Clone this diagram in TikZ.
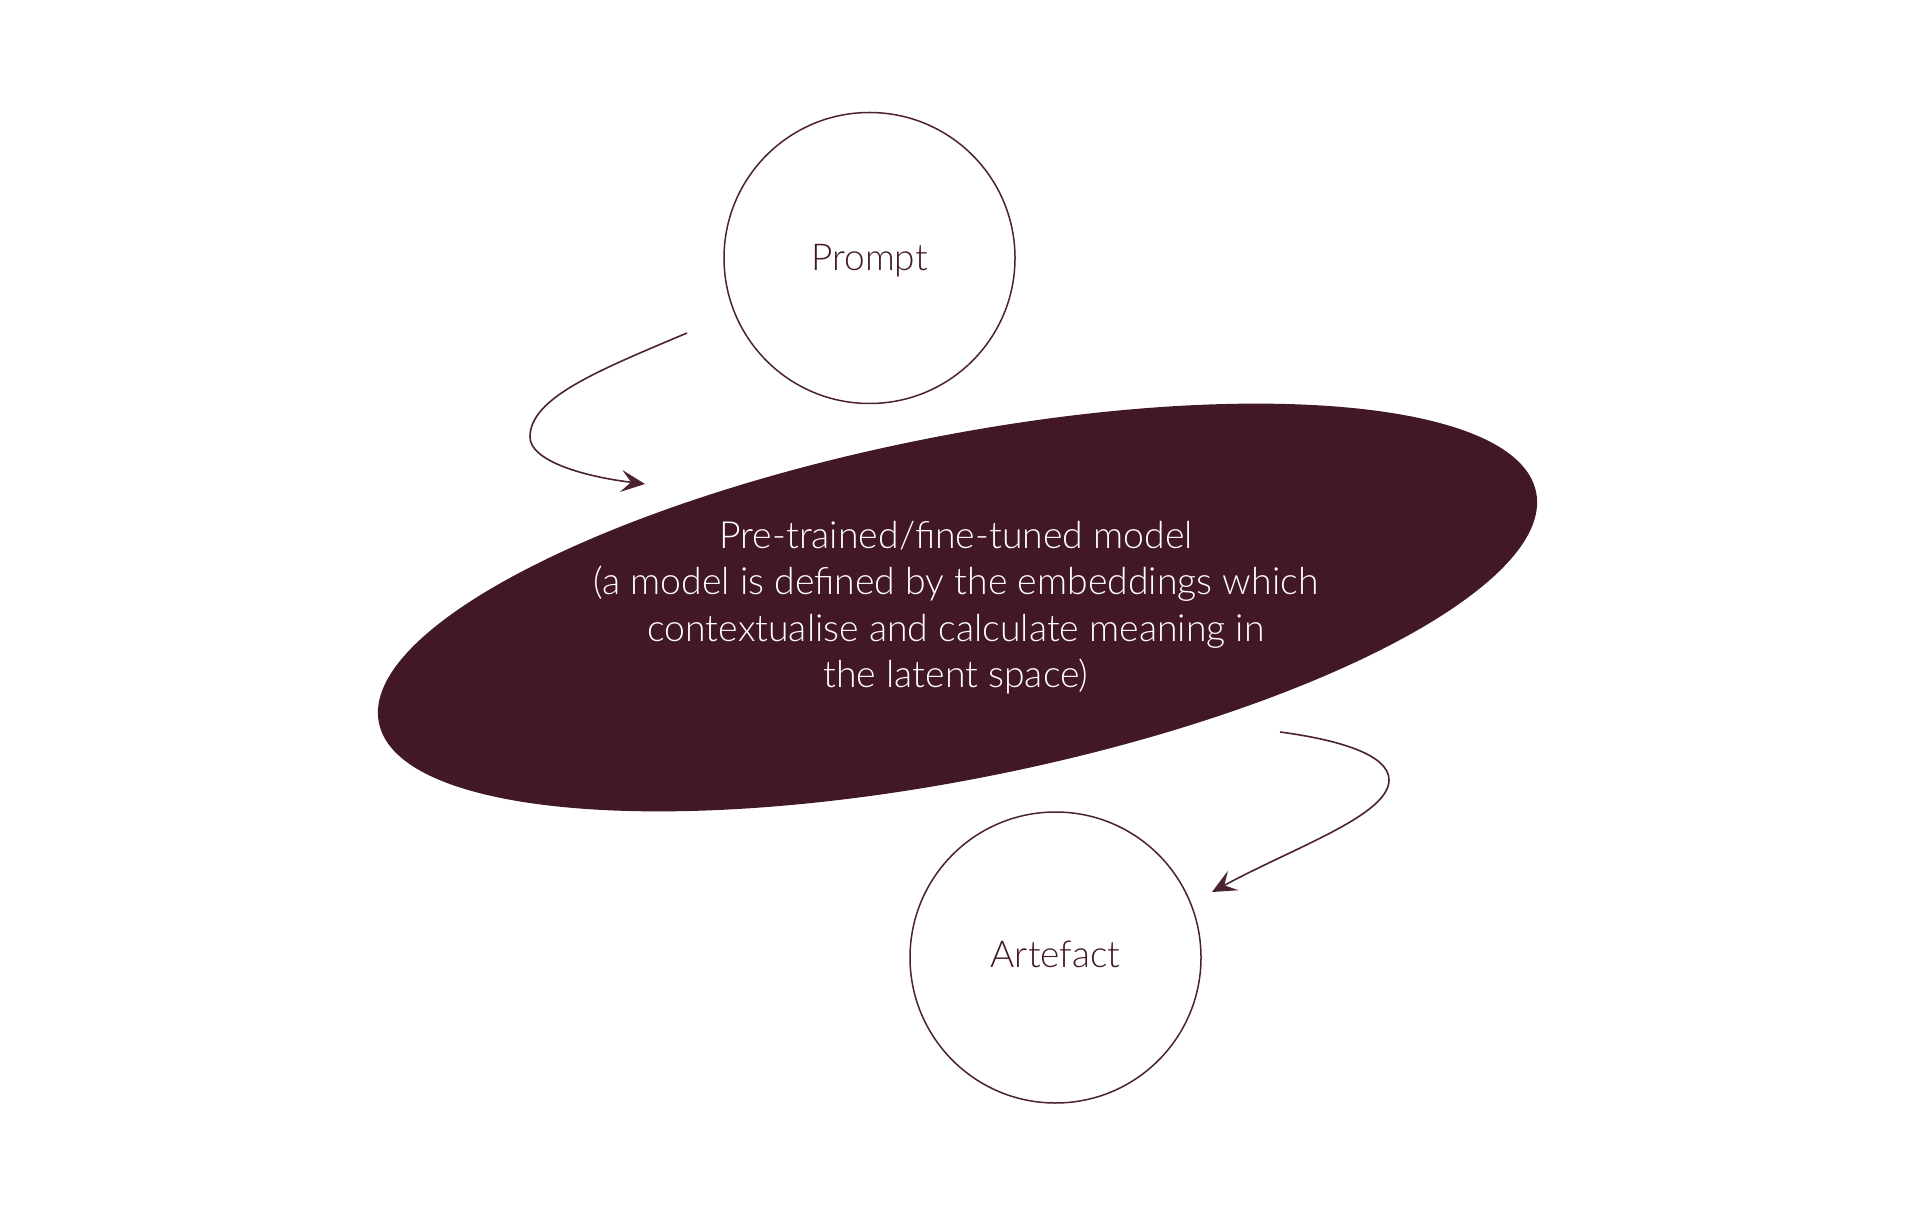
\documentclass[tikz,border=0pt]{standalone}
\usepackage{fontspec}
\setmainfont{Lato Light}
\usetikzlibrary{arrows.meta,shapes.geometric}
\definecolor{maroon}{HTML}{421828}
\definecolor{linec}{HTML}{4A2232}
\tikzset{
  bubble/.style={circle,draw=linec,line width=0.75pt,minimum size=291*0.5pt,inner sep=0pt,text=maroon,font=\fontsize{18.5}{22}\selectfont},
  flow/.style={draw=linec,line width=0.8pt,-{Stealth[length=12pt,width=11pt,inset=5pt]}},
}
\begin{document}
\begin{tikzpicture}[x=0.5pt,y=-0.5pt]
\useasboundingbox (0,0) rectangle (1920,1218);
\node[bubble] (prompt) at (869.5,258) {\raisebox{-1.3pt}[\height][\depth]{Prompt}};
\node[bubble] (artefact) at (1055.5,957.5) {\raisebox{1.8pt}[\height][\depth]{Artefact}};
\node[ellipse,fill=maroon,draw=none,minimum width=1180*0.5pt,minimum height=343*0.5pt,inner sep=0pt,rotate=11.26] (model) at (957.5,607.5) {};
\node[text=white,align=center,font=\fontsize{18.7}{23.25}\selectfont] (modeltext) at (956,607.5) {Pre-trained/fine-tuned model\\(a model is defined by the embeddings which\\contextualise and calculate meaning in\\the latent space)};
\coordinate (a1s) at (687,333);
\coordinate (a1m) at (530,437);
\coordinate (a1e) at (645,484);
\coordinate (a2s) at (1280,732);
\coordinate (a2m) at (1389,780);
\coordinate (a2e) at (1212,892);
\draw[flow] (a1s) .. controls (597,371) and (530,398) .. (a1m) .. controls (530,460) and (580,476) .. (a1e);
\draw[flow] (a2s) .. controls (1340,740) and (1389,755) .. (a2m) .. controls (1389,815) and (1295,847) .. (a2e);
\end{tikzpicture}
\end{document}
